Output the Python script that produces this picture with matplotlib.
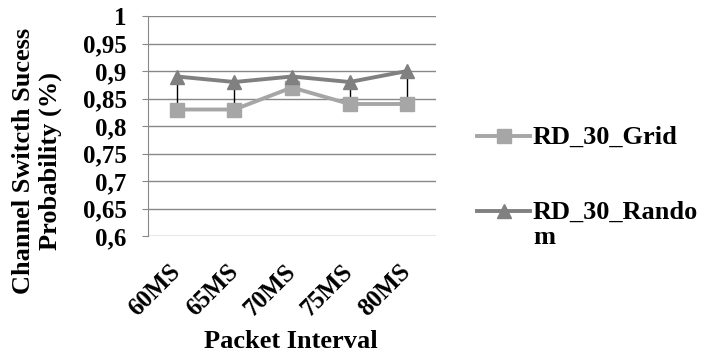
import matplotlib

matplotlib.use("Agg")
import matplotlib.pyplot as plt
from matplotlib.lines import Line2D

categories = ["60MS", "65MS", "70MS", "75MS", "80MS"]
grid_vals = [0.83, 0.83, 0.87, 0.84, 0.84]
random_vals = [0.89, 0.88, 0.89, 0.88, 0.90]
series_labels = ["RD_30_Grid", "RD_30_Rando\nm"]
yticks = [0.6, 0.65, 0.7, 0.75, 0.8, 0.85, 0.9, 0.95, 1.0]
ytick_labels = ["0,6", "0,65", "0,7", "0,75", "0,8", "0,85", "0,9", "0,95", "1"]

GRID_C = "#A6A6A6"
RAND_C = "#808080"

plt.rcParams["font.family"] = ["Liberation Serif", "DejaVu Serif"]
plt.rcParams["font.weight"] = "bold"

fig = plt.figure(figsize=(7.04, 3.58), dpi=100)
ax = fig.add_axes([148 / 704, 1 - 236 / 358, 288 / 704, 220 / 358])

x = list(range(len(categories)))

# high-low lines between the two series
ax.vlines(x, grid_vals, random_vals, color="black", linewidth=1, zorder=2)

ax.plot(x, grid_vals, color=GRID_C, linewidth=2.8, marker="s",
        markersize=10.5, zorder=3)
ax.plot(x, random_vals, color=RAND_C, linewidth=2.8, marker="^",
        markersize=10.5, zorder=4)

ax.set_xlim(-0.5, len(categories) - 0.5)
ax.set_ylim(0.6, 1.0)
ax.set_yticks(yticks)
ax.set_yticklabels(ytick_labels, fontsize=18, fontweight="bold")
ax.set_xticks(x)
ax.set_xticklabels(categories, rotation=45, ha="right", va="center",
                   rotation_mode="anchor", fontsize=18, fontweight="bold")
ax.tick_params(axis="x", length=0, pad=23)
ax.tick_params(axis="y", length=4.3, color="#888888", pad=11)

ax.grid(axis="y", color="#888888", linewidth=1)
ax.set_axisbelow(True)
for s in ["top", "right", "bottom"]:
    ax.spines[s].set_visible(False)
ax.spines["left"].set_color("#888888")

fig.text(37 / 704, 1 - 161 / 358, "Channel Switcth Sucess\nProbability (%)",
         rotation=90, ha="center", va="center", fontsize=19,
         fontweight="bold", linespacing=1.25)
fig.text(291 / 704, 1 - 342 / 358, "Packet Interval", ha="center",
         va="center", fontsize=19, fontweight="bold")

# legend drawn by hand so the wrapped label keeps its handle on the first line
leg_y = [136, 211]
for (lab, col, mk, yy) in zip(series_labels, [GRID_C, RAND_C], ["s", "^"], leg_y):
    fy = 1 - yy / 358
    fig.add_artist(Line2D([477 / 704, 530 / 704], [fy, fy], color=col,
                          linewidth=2.8, transform=fig.transFigure))
    fig.add_artist(Line2D([503.5 / 704], [fy], color=col, marker=mk,
                          markersize=10.5, linestyle="none",
                          transform=fig.transFigure))
    fig.text(533 / 704, 1 - (yy - 10) / 358, lab, ha="left", va="top",
             fontsize=19, fontweight="bold", linespacing=1.1)

fig.savefig("out.png", dpi=100)
